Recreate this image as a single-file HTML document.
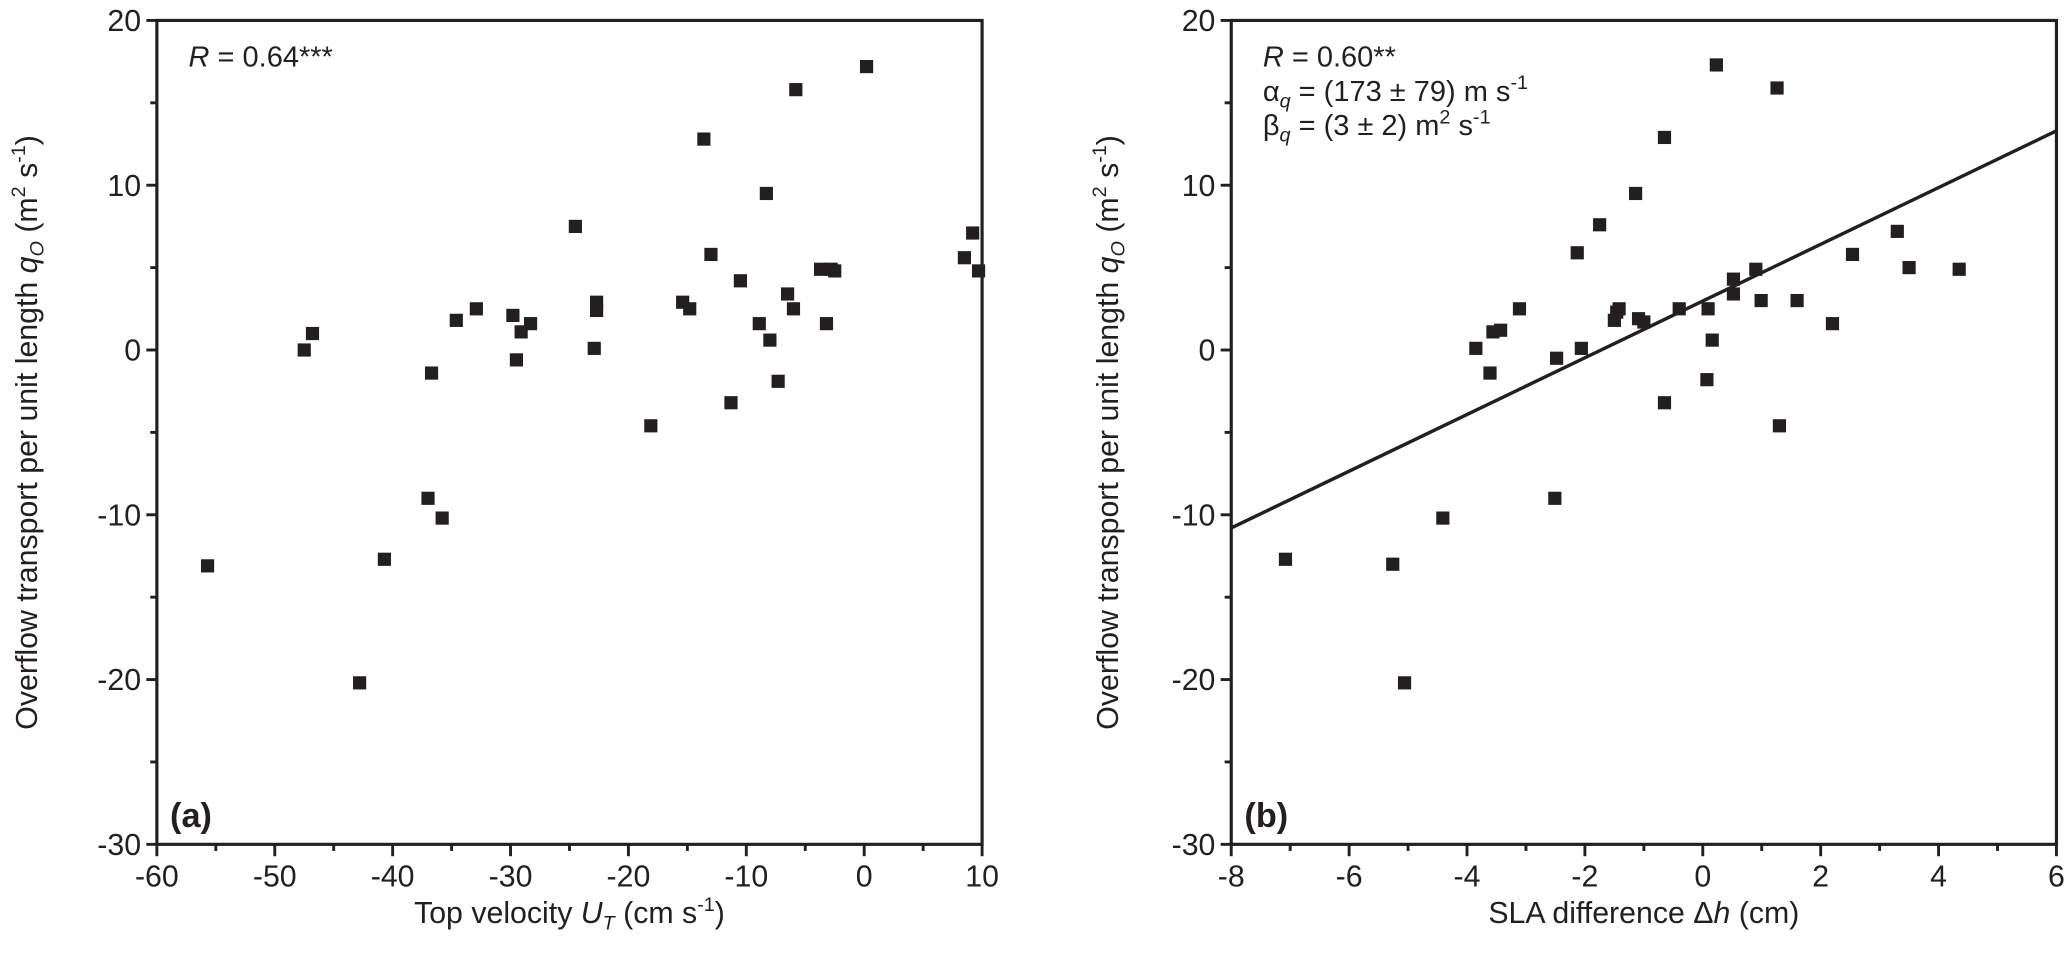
<!DOCTYPE html>
<html><head><meta charset="utf-8"><style>
html,body{margin:0;padding:0;background:#fff}
svg{display:block}
text{font-family:"Liberation Sans",Arial,sans-serif;fill:#231f20}
</style></head><body>
<svg id="chart" width="2067" height="980" viewBox="0 0 1568 743.4" xmlns="http://www.w3.org/2000/svg"></svg>
<script>
const aX=[-55.7,-47.5,-46.8,-42.8,-40.7,-37.0,-36.7,-35.8,-34.6,-32.9,-29.8,-29.5,-29.1,-28.3,-24.5,-22.9,-22.7,-22.7,-18.1,-15.4,-14.8,-13.6,-13.0,-11.3,-10.5,-8.9,-8.3,-8.0,-7.3,-6.5,-6.0,-5.8,-3.7,-3.2,-2.8,-2.5,0.2,8.5,9.2,9.7];
const aY=[-13.1,0,1.0,-20.2,-12.7,-9.0,-1.4,-10.2,1.8,2.5,2.1,-0.6,1.1,1.6,7.5,0.1,2.9,2.4,-4.6,2.9,2.5,12.8,5.8,-3.2,4.2,1.6,9.5,0.6,-1.9,3.4,2.5,15.8,4.9,1.6,4.9,4.8,17.2,5.6,7.1,4.8];
const bX=[-7.08,-5.26,-5.06,-4.41,-3.85,-3.61,-3.56,-3.43,-3.11,-2.51,-2.48,-2.13,-2.06,-1.75,-1.50,-1.46,-1.42,-1.14,-1.09,-1.0,-0.65,-0.65,-0.40,0.07,0.09,0.16,0.23,0.52,0.52,0.9,0.99,1.26,1.30,1.6,2.2,2.54,3.3,3.5,4.35];
const bY=[-12.7,-13.0,-20.2,-10.2,0.1,-1.4,1.1,1.2,2.5,-9.0,-0.5,5.9,0.1,7.6,1.8,2.3,2.5,9.5,1.9,1.7,-3.2,12.9,2.5,-1.8,2.5,0.6,17.3,4.3,3.4,4.9,3.0,15.9,-4.6,3.0,1.6,5.8,7.2,5.0,4.9];
const yTicks=[20,10,0,-10,-20,-30];
const aXTicks=[-60,-50,-40,-30,-20,-10,0,10];
const bXTicks=[-8,-6,-4,-2,0,2,4,6];
const fitB=[-10.8,13.3]; // y at x=-8 and x=6
const NS="http://www.w3.org/2000/svg";
const svg=document.getElementById('chart');
function el(t,a,p){const e=document.createElementNS(NS,t);for(const k in a)e.setAttribute(k,a[k]);(p||svg).appendChild(e);return e;}
const T=15.5,B=640.5;
function panel(id,L,R,xmin,xmax,xt,minorStep,xs,ys,xlab,ylabX,tag,texts){
  const g=el('g',{});
  
  
  const sx=v=>L+(v-xmin)/(xmax-xmin)*(R-L);
  const sy=v=>T+(20-v)/50*(B-T);
  const fr=el('rect',{x:L,y:T,width:R-L,height:B-T,fill:'none',stroke:'#231f20','stroke-width':2.4},g);
  
  
  for(let v=-30;v<=20;v+=5){const maj=v%10===0;el('line',{x1:L-(maj?8:5),x2:L,y1:sy(v),y2:sy(v),stroke:'#231f20','stroke-width':2.2},g);}
  yTicks.forEach(v=>{const t=el('text',{x:L-12,y:sy(v)+8,'font-size':23,'text-anchor':'end'},g);t.textContent=v;
    
    });
  for(let v=xmin;v<=xmax+1e-9;v+=minorStep){const maj=xt.some(m=>Math.abs(m-v)<1e-9);el('line',{x1:sx(v),x2:sx(v),y1:B,y2:B+(maj?9:5),stroke:'#231f20','stroke-width':2.2},g);}
  xt.forEach(v=>{const t=el('text',{x:sx(v),y:B+32,'font-size':23,'text-anchor':'middle'},g);t.textContent=v;
    
    });
  const xl=el('text',{x:(L+R)/2,y:700,'font-size':23,'text-anchor':'middle'},g);xl.innerHTML=xlab;
  
  
  const yl=el('text',{x:0,y:0,'font-size':23,'text-anchor':'middle',transform:`translate(${ylabX},${(T+B)/2}) rotate(-90)`},g);
  yl.innerHTML='Overflow transport per unit length <tspan font-style="italic">q</tspan><tspan font-size="15" dy="5" font-style="italic">O</tspan><tspan dy="-5"> (m</tspan><tspan font-size="15" dy="-9">2</tspan><tspan dy="9"> s</tspan><tspan font-size="15" dy="-9">-1</tspan><tspan dy="9">)</tspan>';
  
  
  xs.forEach((v,i)=>{const r=el('rect',{x:sx(v)-5,y:sy(ys[i])-5,width:10,height:10,fill:'#231f20'},g);
    
    });
  const pt=el('text',{x:L+10,y:B-13,'font-size':26,'font-weight':'bold'},g);pt.textContent=tag;
  
  
  texts.forEach((h,i)=>{const t=el('text',{x:L+24,y:T+35+i*26,'font-size':22},g);t.innerHTML=h;
    
    });
  return {sx,sy,g};
}
panel('a',119,745,-60,10,aXTicks,5,aX,aY,'Top velocity <tspan font-style="italic">U</tspan><tspan font-size="15" dy="5" font-style="italic">T</tspan><tspan dy="-5"> (cm s</tspan><tspan font-size="15" dy="-9">-1</tspan><tspan dy="9">)</tspan>',28,'(a)',
 ['<tspan font-style="italic">R</tspan> = 0.64***']);
const pb=panel('b',934,1560,-8,6,bXTicks,1,bX,bY,'SLA difference Δ<tspan font-style="italic">h</tspan> (cm)',848,'(b)',
 ['<tspan font-style="italic">R</tspan> = 0.60**',
  'α<tspan font-size="15" dy="5" font-style="italic">q</tspan><tspan dy="-5"> = (173 ± 79) m s</tspan><tspan font-size="15" dy="-9">-1</tspan>',
  'β<tspan font-size="15" dy="5" font-style="italic">q</tspan><tspan dy="-5"> = (3 ± 2) m</tspan><tspan font-size="15" dy="-9">2</tspan><tspan dy="9"> s</tspan><tspan font-size="15" dy="-9">-1</tspan>']);
const fl=el('line',{x1:pb.sx(-8),y1:pb.sy(fitB[0]),x2:pb.sx(6),y2:pb.sy(fitB[1]),stroke:'#231f20','stroke-width':2.6},pb.g);


</script>
</body></html>
